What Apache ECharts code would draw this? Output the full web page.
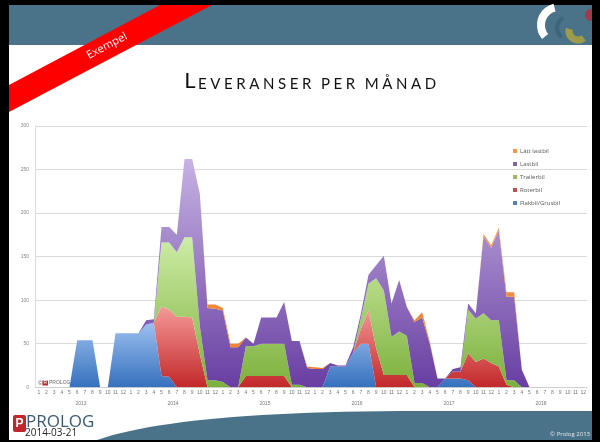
<!DOCTYPE html>
<html>
<head>
<meta charset="utf-8">
<script src="https://cdn.jsdelivr.net/npm/echarts@6/dist/echarts.min.js"></script>
<style>
html, body { margin: 0; padding: 0; background: #000; }
#chart { width: 600px; height: 442px; }
</style>
</head>
<body>
<div id="chart"></div>
<script>
// tick labels
var years = ['2013', '2014', '2015', '2016', '2017', '2018'];
var months = ['1', '2', '3', '4', '5', '6', '7', '8', '9', '10', '11', '12'];
var yTicks = [0, 50, 100, 150, 200, 250, 300];

// series, one value per month from 2013-1 to 2018-12
var flakbil = [
  0, 0, 0, 0, 0, 54, 54, 54, 0, 0, 62, 62,
  62, 62, 72, 74, 13, 12, 0, 0, 0, 0, 0, 0,
  0, 0, 0, 0, 0, 0, 0, 0, 0, 0, 0, 0,
  0, 0, 24, 24, 24, 40, 50, 50, 0, 0, 0, 0,
  0, 0, 0, 0, 0, 10, 10, 10, 8, 0, 0, 0,
  0, 0, 0, 0, 0, 0, 0, 0, 0, 0, 0, 0
];
var roterbil = [
  0, 0, 0, 0, 0, 0, 0, 0, 0, 0, 0, 0,
  0, 0, 0, 0, 80, 77, 81, 81, 80, 38, 0, 0,
  0, 0, 0, 13, 13, 13, 13, 13, 13, 0, 0, 0,
  0, 0, 0, 0, 0, 0, 17, 38, 45, 14, 14, 14,
  14, 0, 0, 0, 0, 0, 8, 8, 31, 29, 33, 28,
  24, 3, 0, 0, 0, 0, 0, 0, 0, 0, 0, 0
];
var trailerbil = [
  0, 0, 0, 0, 0, 0, 0, 0, 0, 0, 0, 0,
  0, 0, 0, 0, 73, 77, 74, 91, 92, 32, 8, 8,
  6, 0, 0, 34, 34, 37, 37, 37, 37, 3, 3, 0,
  0, 0, 0, 0, 0, 0, 12, 31, 80, 97, 44, 50,
  45, 5, 5, 0, 0, 0, 0, 0, 50, 50, 52, 49,
  53, 5, 8, 0, 0, 0, 0, 0, 0, 0, 0, 0
];
var lastbil = [
  0, 0, 0, 0, 0, 0, 0, 0, 0, 0, 0, 0,
  0, 0, 5, 4, 18, 18, 20, 90, 90, 152, 83, 82,
  82, 46, 46, 10, 3, 30, 30, 30, 48, 50, 50, 22,
  21, 21, 4, 1, 1, 6, 5, 10, 15, 40, 38, 59,
  33, 70, 75, 50, 10, 0, 3, 5, 7, 6, 88, 83,
  103, 96, 96, 20, 0, 0, 0, 0, 0, 0, 0, 0
];
var lattLastbil = [
  0, 0, 0, 0, 0, 0, 0, 0, 0, 0, 0, 0,
  0, 0, 0, 0, 0, 0, 0, 0, 0, 0, 4, 5,
  3, 4, 4, 0, 0, 0, 0, 0, 0, 0, 0, 2,
  2, 1, 0, 0, 0, 0, 0, 0, 0, 0, 0, 0,
  0, 2, 6, 2, 0, 0, 0, 0, 0, 0, 3, 3,
  3, 5, 5, 0, 0, 0, 0, 0, 0, 0, 0, 0
];

var categories = [];
years.forEach(function (y) {
  months.forEach(function (m) { categories.push(y + '-' + m); });
});

function grad(top, bottom) {
  return new echarts.graphic.LinearGradient(0, 0, 0, 1, [
    { offset: 0, color: top },
    { offset: 1, color: bottom }
  ]);
}

function areaSeries(name, data, solid, top, bottom) {
  return {
    name: name,
    type: 'line',
    stack: 'total',
    data: data,
    symbol: 'none',
    lineStyle: { width: 0, color: solid },
    itemStyle: { color: solid },
    areaStyle: { color: grad(top, bottom), opacity: 1 },
    emphasis: { disabled: true }
  };
}

// small caps title, one token per letter so it can be spaced out
var titleText = '{b|L}';
'EVERANSER PER MÅNAD'.split('').forEach(function (c) {
  titleText += c === ' ' ? '{sp| }' : '{s|' + c + '}';
});

// bottom swoosh of the slide
var swoosh = [[97, 440]];
for (var k = 0; k <= 24; k++) {
  var t = k / 24;
  var bx = (1 - t) * (1 - t) * 97 + 2 * (1 - t) * t * 180 + t * t * 420;
  var by = (1 - t) * (1 - t) * 440 + 2 * (1 - t) * t * 411 + t * t * 411;
  swoosh.push([bx, by]);
}
swoosh.push([592, 411], [592, 440]);

var myChart = echarts.init(document.getElementById('chart'));
myChart.setOption({
  animation: false,
  backgroundColor: '#000',
  grid: { left: 35, right: 13, top: 125.8, bottom: 54.7 },
  legend: {
    orient: 'vertical',
    left: 508,
    top: 142,
    icon: 'rect',
    itemWidth: 4,
    itemHeight: 4,
    itemGap: 5,
    data: ['Lätt lastbil', 'Lastbil', 'Trailerbil', 'Roterbil', 'Flakbil/Grusbil'],
    textStyle: { fontSize: 6, color: '#555', lineHeight: 8, padding: [0, 0, 0, -2], fontFamily: 'Open Sans' }
  },
  xAxis: [
    {
      type: 'category',
      data: categories,
      axisLine: { lineStyle: { color: '#cfcfcf' } },
      axisTick: { interval: 0, length: 10, lineStyle: { color: '#cfcfcf' } },
      axisLabel: {
        interval: 0, fontSize: 5, color: '#777', margin: 3,
        formatter: function (v) { return v.split('-')[1]; }
      }
    },
    {
      type: 'category',
      data: years,
      position: 'bottom',
      axisLine: { show: false },
      axisTick: { interval: 0, length: 22, lineStyle: { color: '#cfcfcf' } },
      axisLabel: { fontSize: 5, color: '#777', margin: 14 }
    }
  ],
  yAxis: {
    type: 'value',
    min: yTicks[0],
    max: yTicks[yTicks.length - 1],
    interval: 50,
    axisLine: { show: true, lineStyle: { color: '#dcdcdc' } },
    axisTick: { show: false },
    axisLabel: { fontSize: 5, color: '#888', margin: 6 },
    splitLine: { lineStyle: { color: '#dadada' } }
  },
  series: [
    areaSeries('Flakbil/Grusbil', flakbil, '#4f81bd', '#9cc0ef', '#3670be'),
    areaSeries('Roterbil', roterbil, '#c0504d', '#f59a98', '#c2282a'),
    areaSeries('Trailerbil', trailerbil, '#9bbb59', '#cdeca6', '#7cb03c'),
    areaSeries('Lastbil', lastbil, '#8064a2', '#c6b3e2', '#683ea2'),
    areaSeries('Lätt lastbil', lattLastbil, '#f79646', '#f7a45a', '#ee7b2a')
  ],
  graphic: [
    { type: 'rect', z: -10, shape: { x: 9, y: 5, width: 583, height: 435 }, style: { fill: '#fff' } },
    { type: 'rect', z: -9, shape: { x: 9, y: 5, width: 583, height: 40 }, style: { fill: '#4a7389' } },
    // logo top right
    { type: 'arc', z: 1, shape: { cx: 559, cy: 25, r: 18, startAngle: Math.PI * 0.78, endAngle: Math.PI * 1.42 }, style: { stroke: '#fff', lineWidth: 8, fill: null } },
    { type: 'arc', z: 1, shape: { cx: 568, cy: 28, r: 11, startAngle: Math.PI * 0.7, endAngle: Math.PI * 1.35 }, style: { stroke: '#3b6579', lineWidth: 4, fill: null } },
    { type: 'arc', z: 1, shape: { cx: 578, cy: 31, r: 9, startAngle: Math.PI * 0.28, endAngle: Math.PI * 1.08 }, style: { stroke: '#9d9a4b', lineWidth: 7, fill: null } },
    { type: 'circle', z: 1, shape: { cx: 591, cy: 15, r: 6 }, style: { fill: '#a3394c' } },
    { type: 'rect', z: 2, shape: { x: 592, y: 0, width: 8, height: 442 }, style: { fill: '#000' } },
    // Exempel band
    { type: 'polygon', z: 20, shape: { points: [[160, 5], [212, 5], [9, 112], [9, 85]] }, style: { fill: '#ff0000' } },
    {
      type: 'text', z: 21, x: 107, y: 46, rotation: 0.49,
      style: { text: 'Exempel', fill: '#fff', font: '11px "Open Sans"', align: 'center', verticalAlign: 'middle' }
    },
    // title
    {
      type: 'text', z: 1, x: 312, y: 92,
      style: {
        text: titleText,
        align: 'center', verticalAlign: 'bottom',
        rich: {
          b: { fontSize: 22, fontFamily: 'Lato', fill: '#111', verticalAlign: 'bottom', padding: [0, 2.5, 0, 0] },
          s: { fontSize: 15, fontFamily: 'Lato', fill: '#111', verticalAlign: 'bottom', padding: [0, 3.6, 0, 0] },
          sp: { fontSize: 15, fontFamily: 'Lato', fill: '#111', verticalAlign: 'bottom', padding: [0, 2, 0, 0] }
        }
      }
    },
    // chart watermark
    {
      type: 'text', z: 5, x: 38, y: 383,
      style: {
        text: '{c|©}{r|R}{p|PROLOG}',
        verticalAlign: 'middle',
        rich: {
          c: { fontSize: 6, fill: '#444' },
          r: { fontSize: 5, fill: '#fff', backgroundColor: '#c0272d', padding: [0, 1] },
          p: { fontSize: 5, fill: '#666', padding: [0, 0, 0, 1] }
        }
      }
    },
    // bottom bar
    { type: 'polygon', z: -8, shape: { points: swoosh }, style: { fill: '#4a7389' } },
    { type: 'rect', z: 1, shape: { x: 13, y: 415, width: 13, height: 17, r: 2 }, style: { fill: '#c0272d' } },
    { type: 'text', z: 2, x: 19.5, y: 423.5, style: { text: 'P', fill: '#fff', font: 'bold 12px "Liberation Sans"', align: 'center', verticalAlign: 'middle' } },
    { type: 'text', z: 2, x: 26, y: 422, style: { text: 'PROLOG', fill: '#3a5a72', font: '17px "Open Sans"', verticalAlign: 'middle' } },
    { type: 'text', z: 3, x: 25, y: 433.5, style: { text: '2014-03-21', fill: '#222', font: '10px "Open Sans"', verticalAlign: 'middle' } },
    { type: 'text', z: 3, x: 590, y: 434, style: { text: '© Prolog 2013', fill: '#e4e8ec', font: '6px "Open Sans"', align: 'right', verticalAlign: 'middle' } }
  ]
});
</script>
</body>
</html>
